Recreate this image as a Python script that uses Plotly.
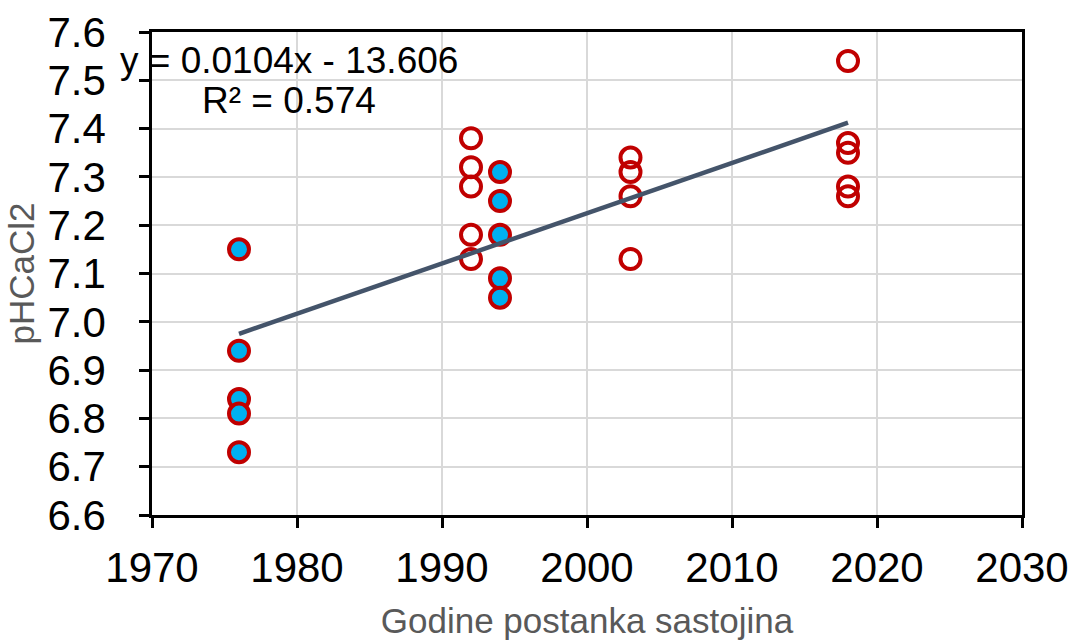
import numpy as np
import plotly.graph_objects as go

# Stand establishment year and soil pH (CaCl2)
years_filled = [1976, 1976, 1976, 1976, 1976, 1994, 1994, 1994, 1994, 1994]
ph_filled = [7.15, 6.94, 6.84, 6.81, 6.73, 7.31, 7.25, 7.18, 7.09, 7.05]

years_open = [1992, 1992, 1992, 1992, 1992,
              2003, 2003, 2003, 2003,
              2018, 2018, 2018, 2018, 2018]
ph_open = [7.38, 7.32, 7.28, 7.18, 7.13,
           7.34, 7.31, 7.26, 7.13,
           7.54, 7.37, 7.35, 7.28, 7.26]

x_ticks = [1970, 1980, 1990, 2000, 2010, 2020, 2030]
y_ticks = [6.6, 6.7, 6.8, 6.9, 7.0, 7.1, 7.2, 7.3, 7.4, 7.5, 7.6]

eq_line1 = "y = 0.0104x - 13.606"
eq_line2 = "R² = 0.574"

# Linear trend over all observations
all_x = np.array(years_filled + years_open, dtype=float)
all_y = np.array(ph_filled + ph_open, dtype=float)
slope, intercept = np.polyfit(all_x, all_y, 1)
trend_x = np.array([all_x.min(), all_x.max()])
trend_y = slope * trend_x + intercept

FONT = "Liberation Sans, Arial, sans-serif"
RED = "#C00000"

fig = go.Figure()
fig.add_trace(go.Scatter(
    x=years_open, y=ph_open, mode="markers",
    marker=dict(symbol="circle", size=20, color="rgba(0,0,0,0)",
                line=dict(color=RED, width=4)),
    showlegend=False, hoverinfo="x+y"))
fig.add_trace(go.Scatter(
    x=years_filled, y=ph_filled, mode="markers",
    marker=dict(symbol="circle", size=20, color="#00B0F0",
                line=dict(color=RED, width=4)),
    showlegend=False, hoverinfo="x+y"))
fig.add_trace(go.Scatter(
    x=trend_x, y=trend_y, mode="lines",
    line=dict(color="#44546A", width=4.5),
    showlegend=False, hoverinfo="skip"))

fig.add_annotation(x=0.1575, y=0.942, xref="paper", yref="paper",
                   text=eq_line1, showarrow=False, xanchor="center", yanchor="middle",
                   font=dict(family=FONT, size=37, color="#000000"))
fig.add_annotation(x=0.1575, y=0.859, xref="paper", yref="paper",
                   text=eq_line2, showarrow=False, xanchor="center", yanchor="middle",
                   font=dict(family=FONT, size=37, color="#000000"))

fig.update_layout(
    width=1075, height=640,
    margin=dict(l=152, r=53, t=32, b=125),
    paper_bgcolor="white", plot_bgcolor="white",
    font=dict(family=FONT, color="#000000"),
    xaxis=dict(
        range=[1970, 2030], tickvals=x_ticks, ticktext=[str(v) for v in x_ticks],
        showgrid=True, gridcolor="#D9D9D9", gridwidth=2,
        showline=True, linecolor="#000000", linewidth=2.5, mirror=True,
        ticks="outside", ticklen=10, tickwidth=2.5, tickcolor="#000000",
        tickfont=dict(family=FONT, size=42, color="#000000"),
        ticklabelstandoff=4, automargin=False,
        zeroline=False,
        title=dict(text="Godine postanka sastojina",
                   font=dict(family=FONT, size=35, color="#595959"), standoff=26),
    ),
    yaxis=dict(
        range=[6.6, 7.6], tickvals=y_ticks, ticktext=[f"{v:.1f}" for v in y_ticks],
        showgrid=True, gridcolor="#D9D9D9", gridwidth=2,
        showline=True, linecolor="#000000", linewidth=2.5, mirror=True,
        ticks="outside", ticklen=10, tickwidth=2.5, tickcolor="#000000",
        tickfont=dict(family=FONT, size=42, color="#000000"),
        ticklabelstandoff=25, automargin=False,
        zeroline=False,
        title=dict(text="pHCaCl2",
                   font=dict(family=FONT, size=35, color="#595959"), standoff=3),
    ),
)

fig.write_html("out.html")
